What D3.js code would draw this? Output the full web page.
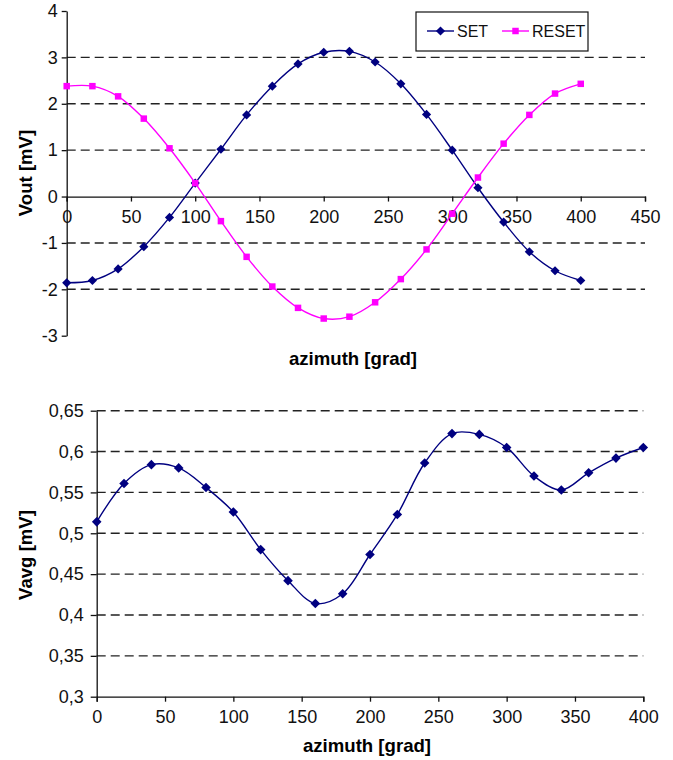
<!DOCTYPE html>
<html>
<head>
<meta charset="utf-8">
<script src="https://cdn.jsdelivr.net/npm/d3@7"></script>
<style>
  body { margin: 0; background: #fff; }
  svg { display: block; font-family: "Liberation Sans", Arial, sans-serif; }
</style>
</head>
<body>
<div id="chart"></div>
<script>
// azimuth positions (grad)
const azimuth = [0, 20, 40, 60, 80, 100, 120, 140, 160, 180, 200, 220, 240, 260, 280, 300, 320, 340, 360, 380, 400];

// top chart: Vout [mV]
const setValues = [-1.86, -1.81, -1.56, -1.08, -0.45, 0.29, 1.02, 1.76, 2.38, 2.86, 3.11, 3.13, 2.90, 2.43, 1.77, 1.00, 0.19, -0.55, -1.19, -1.60, -1.81];
const resetValues = [2.38, 2.38, 2.16, 1.68, 1.04, 0.29, -0.53, -1.30, -1.94, -2.40, -2.63, -2.59, -2.28, -1.78, -1.14, -0.37, 0.41, 1.14, 1.76, 2.22, 2.43];
const topXTicks = [0, 50, 100, 150, 200, 250, 300, 350, 400, 450];
const topYTicks = [-3, -2, -1, 0, 1, 2, 3, 4];
const topGrid = [-2, -1, 1, 2, 3];

// bottom chart: Vavg [mV]
const avgValues = [0.514, 0.561, 0.584, 0.580, 0.556, 0.526, 0.480, 0.442, 0.414, 0.426, 0.474, 0.523, 0.586, 0.622, 0.621, 0.605, 0.570, 0.553, 0.574, 0.592, 0.605];
const botXTicks = [0, 50, 100, 150, 200, 250, 300, 350, 400];
const botYTicks = [0.3, 0.35, 0.4, 0.45, 0.5, 0.55, 0.6, 0.65];
const botGrid = [0.35, 0.4, 0.45, 0.5, 0.55, 0.6, 0.65];

const navy = "#000080";
const magenta = "#ff00ff";

const svg = d3.select("#chart")
  .append("svg")
  .attr("width", 673)
  .attr("height", 760);

const fmtPlain = d => String(d);
const fmtComma = d => String(d).replace(".", ",");

function drawGrid(g, x, y, values, x0, x1) {
  g.selectAll(".grid")
    .data(values)
    .enter()
    .append("line")
    .attr("x1", x(x0))
    .attr("x2", x(x1))
    .attr("y1", d => y(d))
    .attr("y2", d => y(d))
    .attr("stroke", "#222")
    .attr("stroke-width", 1.4)
    .attr("stroke-dasharray", "9,5");
}

function drawSeries(g, x, y, values, color, size, rotate) {
  const line = d3.line()
    .x((d, i) => x(azimuth[i]))
    .y(d => y(d))
    .curve(d3.curveCatmullRom.alpha(0.5));
  g.append("path")
    .datum(values)
    .attr("d", line)
    .attr("fill", "none")
    .attr("stroke", color)
    .attr("stroke-width", 1.4);
  g.selectAll(null)
    .data(values)
    .enter()
    .append("path")
    .attr("d", d3.symbol().type(d3.symbolSquare).size(size))
    .attr("transform", (d, i) => "translate(" + x(azimuth[i]) + "," + y(d) + ") rotate(" + rotate + ")")
    .attr("fill", color);
}

function styleAxis(sel) {
  sel.attr("font-size", null).attr("font-family", null);
  sel.select(".domain").attr("stroke", "#111").attr("stroke-width", 1.3);
  sel.selectAll(".tick line").attr("stroke", "#111").attr("stroke-width", 1.3);
  sel.selectAll(".tick text")
    .style("font-size", "18px")
    .style("font-family", "'Liberation Sans', Arial, sans-serif")
    .attr("fill", "#111");
}

// ---------- top chart ----------
{
  const x = d3.scaleLinear().domain([0, 450]).range([66.7, 645]);
  const y = d3.scaleLinear().domain([-3, 4]).range([335.7, 11]);
  const g = svg.append("g");

  drawGrid(g, x, y, topGrid, 0, 450);

  const xAxis = g.append("g")
    .attr("transform", "translate(0," + y(0) + ")")
    .call(d3.axisBottom(x).tickValues(topXTicks).tickFormat(fmtPlain).tickSize(5).tickSizeOuter(5).tickPadding(9));
  styleAxis(xAxis);

  const yAxis = g.append("g")
    .attr("transform", "translate(" + x(0) + ",0)")
    .call(d3.axisLeft(y).tickValues(topYTicks).tickFormat(fmtPlain).tickSize(5).tickSizeOuter(0).tickPadding(4));
  styleAxis(yAxis);

  drawSeries(g, x, y, setValues, navy, 42, 45);
  drawSeries(g, x, y, resetValues, magenta, 42, 0);

  g.append("text")
    .attr("x", 353)
    .attr("y", 365)
    .attr("text-anchor", "middle")
    .attr("font-size", 18.6)
    .attr("font-weight", "bold")
    .text("azimuth [grad]");

  g.append("text")
    .attr("transform", "translate(32,173) rotate(-90)")
    .attr("text-anchor", "middle")
    .attr("font-size", 18.6)
    .attr("font-weight", "bold")
    .text("Vout [mV]");

  // legend
  const lg = g.append("g");
  lg.append("rect")
    .attr("x", 416).attr("y", 12).attr("width", 172).attr("height", 39)
    .attr("fill", "#fff").attr("stroke", "#111").attr("stroke-width", 1.2);
  const items = [
    { name: "SET", color: navy, rot: 45, x0: 427, tx: 457 },
    { name: "RESET", color: magenta, rot: 0, x0: 502, tx: 532 }
  ];
  items.forEach(it => {
    lg.append("line")
      .attr("x1", it.x0).attr("x2", it.x0 + 27)
      .attr("y1", 31).attr("y2", 31)
      .attr("stroke", it.color).attr("stroke-width", 1.4);
    lg.append("path")
      .attr("d", d3.symbol().type(d3.symbolSquare).size(42))
      .attr("transform", "translate(" + (it.x0 + 13.5) + ",31) rotate(" + it.rot + ")")
      .attr("fill", it.color);
    lg.append("text")
      .attr("x", it.tx).attr("y", 37)
      .attr("font-size", 16)
      .attr("fill", "#111")
      .text(it.name);
  });
}

// ---------- bottom chart ----------
{
  const x = d3.scaleLinear().domain([0, 400]).range([96.7, 643.3]);
  const y = d3.scaleLinear().domain([0.3, 0.65]).range([696.7, 410.7]);
  const g = svg.append("g");

  drawGrid(g, x, y, botGrid, 0, 400);

  const xAxis = g.append("g")
    .attr("transform", "translate(0," + y(0.3) + ")")
    .call(d3.axisBottom(x).tickValues(botXTicks).tickFormat(fmtPlain).tickSize(5).tickSizeOuter(5).tickPadding(9));
  styleAxis(xAxis);

  const yAxis = g.append("g")
    .attr("transform", "translate(" + x(0) + ",0)")
    .call(d3.axisLeft(y).tickValues(botYTicks).tickFormat(fmtComma).tickSize(6).tickSizeOuter(0).tickPadding(7));
  styleAxis(yAxis);

  drawSeries(g, x, y, avgValues, navy, 46, 45);

  g.append("text")
    .attr("x", 367)
    .attr("y", 752)
    .attr("text-anchor", "middle")
    .attr("font-size", 18.6)
    .attr("font-weight", "bold")
    .text("azimuth [grad]");

  g.append("text")
    .attr("transform", "translate(32,555) rotate(-90)")
    .attr("text-anchor", "middle")
    .attr("font-size", 18.6)
    .attr("font-weight", "bold")
    .text("Vavg [mV]");
}
</script>
</body>
</html>
